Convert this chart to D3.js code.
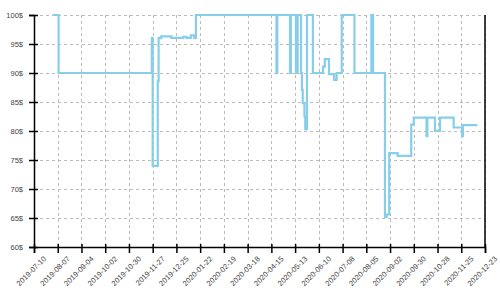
<!DOCTYPE html>
<html>
<head>
<meta charset="utf-8">
<script src="https://cdn.jsdelivr.net/npm/d3@7"></script>
<style>
  body { margin: 0; background: #fff; }
  .axis text { font-family: "Liberation Sans", Arial, sans-serif; font-size: 7.5px; fill: #444; }
  .grid line { stroke: #bbb; stroke-dasharray: 3,3; }
</style>
</head>
<body>
<div class="chart"></div>
<script>
// price history (step after)
var dates = ["2019-08-01","2019-08-08","2019-11-26","2019-11-27","2019-12-03","2019-12-04",
  "2019-12-07","2019-12-19","2020-01-02","2020-01-06","2020-01-11","2020-01-15","2020-01-17",
  "2020-04-21","2020-04-22","2020-05-07","2020-05-08","2020-05-14","2020-05-16","2020-05-20",
  "2020-05-21","2020-05-22","2020-05-24","2020-05-25","2020-05-27","2020-06-03","2020-06-15",
  "2020-06-17","2020-06-22","2020-06-28","2020-07-01","2020-07-07","2020-07-22","2020-08-11",
  "2020-08-13","2020-08-27","2020-08-29","2020-09-01","2020-09-11","2020-09-27","2020-09-30",
  "2020-10-15","2020-10-16","2020-10-25","2020-10-31","2020-11-16","2020-11-26","2020-11-27",
  "2020-12-14"];
var prices = [100,90,96.0,74.0,88.6,96.0,
  96.3,96.05,96.25,96.05,96.5,96.05,100,
  90,100,90,100,90,100,90,
  87.1,84.8,82.5,80.3,100,90,91.1,
  92.4,89.8,88.8,90,100,90,100,
  90,65.2,65.6,76.2,75.7,81.1,82.3,
  79.1,82.3,80.0,82.3,80.6,79.1,81.0,
  81.0];
var xTickLabels = ["2019-07-10","2019-08-07","2019-09-04","2019-10-02","2019-10-30","2019-11-27",
  "2019-12-25","2020-01-22","2020-02-19","2020-03-18","2020-04-15","2020-05-13","2020-06-10",
  "2020-07-08","2020-08-05","2020-09-02","2020-09-30","2020-10-28","2020-11-25","2020-12-23"];
var yTicks = [60,65,70,75,80,85,90,95,100];

var margin = {top: 15, right: 15, bottom: 53, left: 34},
    width = 500 - margin.left - margin.right,
    height = 300 - margin.top - margin.bottom;

var parse = d3.timeParse("%Y-%m-%d");
var xTicks = xTickLabels.map(parse);
var data = dates.map(function(d, i) { return {date: parse(d), price: prices[i]}; });

var x = d3.scaleTime()
    .domain([xTicks[0], xTicks[xTicks.length - 1]])
    .range([0, width]);
var y = d3.scaleLinear()
    .domain([60, 100])
    .range([height, 0]);

var svg = d3.select(".chart").append("svg")
    .attr("width", width + margin.left + margin.right)
    .attr("height", height + margin.top + margin.bottom)
  .append("g")
    .attr("transform", "translate(" + margin.left + "," + margin.top + ")");

// grid
svg.append("g").attr("class", "grid")
  .selectAll("line.v").data(xTicks).enter().append("line")
    .attr("x1", function(d) { return Math.round(x(d)) + 0.5; })
    .attr("x2", function(d) { return Math.round(x(d)) + 0.5; })
    .attr("y1", 0).attr("y2", height);
svg.select(".grid")
  .selectAll("line.h").data(yTicks).enter().append("line")
    .attr("x1", 0).attr("x2", width)
    .attr("y1", function(d) { return Math.round(y(d)) + 0.5; })
    .attr("y2", function(d) { return Math.round(y(d)) + 0.5; });

// price line
var line = d3.line()
    .x(function(d) { return x(d.date); })
    .y(function(d) { return y(d.price); })
    .curve(d3.curveStepAfter);

svg.append("path")
    .datum(data)
    .attr("fill", "none")
    .attr("stroke", "#87ceeb")
    .attr("stroke-width", 2.2)
    .attr("d", line);

// axes
var xAxis = svg.append("g")
    .attr("class", "axis")
    .attr("transform", "translate(0," + height + ")")
    .call(d3.axisBottom(x).tickValues(xTicks).tickSize(6)
      .tickFormat(function(d, i) { return xTickLabels[i]; }));
xAxis.selectAll(".tick line").attr("y1", -3);
xAxis.selectAll("text")
    .style("text-anchor", "end")
    .attr("y", 12)
    .attr("transform", "rotate(-45)");

var yAxis = svg.append("g")
    .attr("class", "axis")
    .call(d3.axisLeft(y).tickValues(yTicks).tickSize(5).tickPadding(6)
      .tickFormat(function(d) { return d + "$"; }));
yAxis.selectAll(".tick line").attr("x1", 4);

svg.selectAll(".axis path, .axis line").attr("stroke", "#000").attr("stroke-width", 1.5);

svg.append("line")
    .attr("x1", width).attr("x2", width)
    .attr("y1", 0).attr("y2", height)
    .attr("stroke", "#000").attr("stroke-width", 1.5);
</script>
</body>
</html>
